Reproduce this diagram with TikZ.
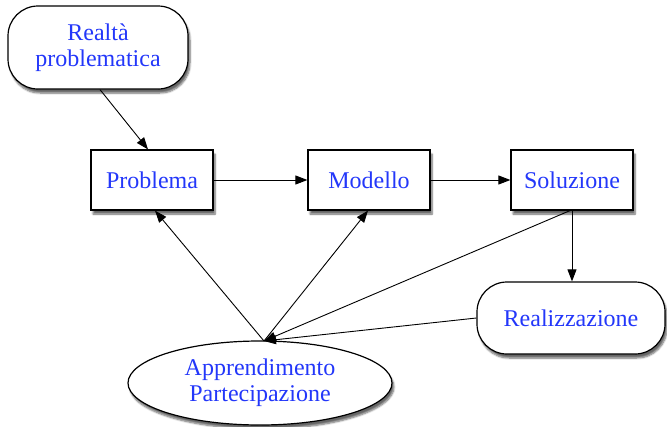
\documentclass[tikz,border=0pt]{standalone}
\usepackage{fontspec}
\setmainfont{Liberation Serif}
\usetikzlibrary{shapes.geometric,shadows.blur,arrows.meta}
\definecolor{txtblue}{RGB}{35,55,250}
\begin{document}
\begin{tikzpicture}[x=1pt,y=-1pt,
  base/.style={draw=black, line width=1.2pt, fill=white,
    blur shadow={shadow xshift=2pt, shadow yshift=-4pt, shadow blur steps=6, shadow opacity=60},
    text=txtblue, font=\fontsize{24}{26}\selectfont, align=center, inner sep=0pt},
  box/.style={base, rectangle, minimum width=122pt, minimum height=60pt},
  pill/.style={base, rectangle, rounded corners=30pt},
  oval/.style={base, ellipse, minimum width=264pt, minimum height=84pt},
  arr/.style={-{Triangle[length=12pt,width=9pt]}, line width=0.9pt}]
\useasboundingbox (0,0) rectangle (667,426);
\node[pill, minimum width=180pt, minimum height=83pt] (realta) at (98,47.5) {Realtà\\problematica};
\node[box] (problema) at (152,180) {Problema};
\node[box] (modello) at (369,180) {Modello};
\node[box] (soluzione) at (572,180) {Soluzione};
\node[pill, minimum width=188pt, minimum height=72pt] (realiz) at (571,318) {Realizzazione};
\node[oval] (app) at (260,383) {Apprendimento\\Partecipazione};
\coordinate (top) at (264,341);
\draw[arr] ([xshift=2pt]realta.south) -- ([xshift=-4pt]problema.north);
\draw[arr] (problema) -- (modello);
\draw[arr] (modello) -- (soluzione);
\draw[arr] (soluzione.south) -- (soluzione.south |- realiz.north);
\draw[arr] (top) -- ([xshift=3pt]problema.south);
\draw[arr] (top) -- ([xshift=-1pt]modello.south);
\draw[arr] ([xshift=-2pt]soluzione.south) -- (top);
\draw[arr] (realiz.west) -- (top);
\end{tikzpicture}
\end{document}
